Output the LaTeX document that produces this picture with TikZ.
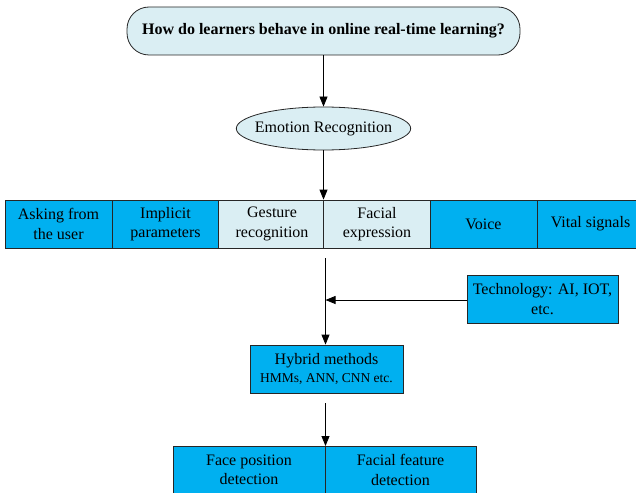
\documentclass[tikz,border=0pt]{standalone}
\usepackage{fontspec}
\setmainfont{Liberation Serif}
\usetikzlibrary{shapes.geometric,arrows.meta}
\definecolor{cblue}{HTML}{00B0F0}
\definecolor{clight}{HTML}{DAEEF3}
\tikzset{
  base/.style={draw=black!85, line width=0.8pt, inner sep=0pt, align=center, font=\fontsize{16}{19.5}\selectfont},
  cell/.style={base, rectangle, minimum width=107pt, minimum height=48pt},
  bluecell/.style={cell, fill=cblue},
  lightcell/.style={cell, fill=clight},
  conn/.style={line width=0.8pt, -{Triangle[length=10pt,width=8pt]}},
  plain/.style={line width=0.8pt}
}
\begin{document}
\begin{tikzpicture}[x=1pt,y=-1pt]
\useasboundingbox (0,0) rectangle (636,492);
\clip (0,0) rectangle (636,492);
\node[base, rounded corners=22pt, fill=clight, minimum width=393pt, minimum height=48pt, font=\fontsize{16}{19}\selectfont\bfseries] (q) at (323.5,31) {How do learners behave in online real-time learning?};
\node[base, ellipse, fill=clight, inner xsep=-7pt, inner ysep=0pt, minimum width=173pt, minimum height=43pt] (er) at (323.5,128.5) {Emotion Recognition};
\node[bluecell] (c1) at (58.5,224) {Asking from\\the user};
\node[bluecell] (c2) at (165.5,224) {Implicit\\parameters};
\node[lightcell] (c3) at (272,224) {Gesture\\recognition};
\node[lightcell] (c4) at (377,224) {Facial\\expression};
\node[bluecell] (c5) at (483.5,224) {Voice};
\node[bluecell] (c6) at (590.5,224) {Vital signals};
\node[base, rectangle, fill=cblue, minimum width=151pt, minimum height=48pt] (tech) at (542.5,299) {Technology: AI, IOT,\\etc.};
\node[base, rectangle, fill=cblue, minimum width=153pt, minimum height=48pt] (hyb) at (326.5,369) {Hybrid methods\\[-1pt]{\fontsize{13.5}{15}\selectfont HMMs, ANN, CNN etc.}};
\node[base, rectangle, fill=cblue, minimum width=152pt, minimum height=60pt, anchor=north] (fp) at (249,446) {};
\node[base, rectangle, fill=cblue, minimum width=151pt, minimum height=60pt, anchor=north] (ff) at (400.5,446) {};
\node[font=\fontsize{16}{19.5}\selectfont, align=center, anchor=north] at (249,451) {Face position\\detection};
\node[font=\fontsize{16}{19.5}\selectfont, align=center, anchor=north] at (400.5,451) {Facial feature\\detection};
\coordinate (s1) at (325.5,258);
\coordinate (j1) at (325.5,300);
\coordinate (s2) at (325.5,403);
\draw[conn] (q.south) -- (er.north);
\draw[conn] (er.south) -- (er.south |- c4.north);
\draw[conn] (s1) -- (s1 |- hyb.north);
\draw[conn] (tech.west |- j1) -- (j1);
\draw[conn] (s2) -- (s2 |- fp.north);
\end{tikzpicture}
\end{document}
